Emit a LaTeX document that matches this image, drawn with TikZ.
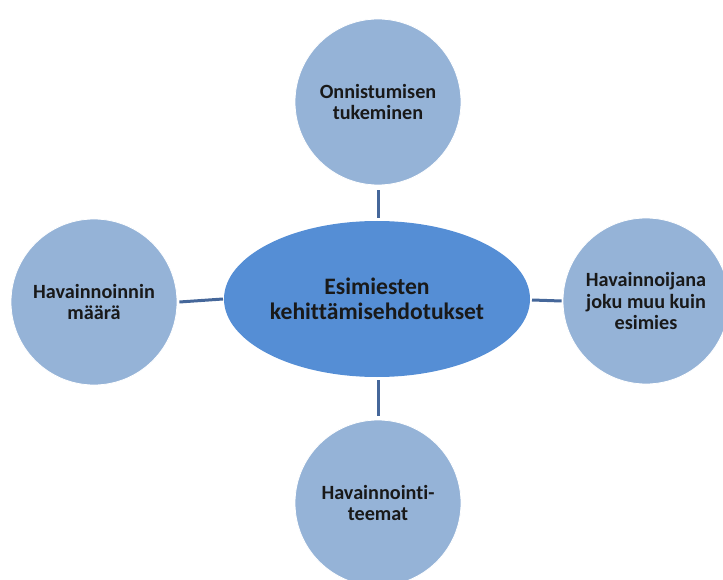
\documentclass[tikz,border=0pt]{standalone}
\usepackage{fontspec}
\setmainfont[Ligatures=NoCommon]{Carlito}
\usetikzlibrary{shapes.geometric}
\definecolor{circfill}{HTML}{95B3D7}
\definecolor{ellfill}{HTML}{558ED5}
\definecolor{linkcol}{HTML}{45679A}
\begin{document}
\begin{tikzpicture}[x=1pt,y=-1pt,
  satellite/.style={circle,fill=circfill,draw=white,line width=0.8pt,minimum size=166pt,inner sep=0pt,
    align=center,font=\bfseries\fontsize{20.2}{21.5}\selectfont,text=black!90},
  hub/.style={ellipse,fill=ellfill,draw=none,minimum width=306pt,minimum height=156pt,inner sep=0pt,
    align=center,font=\bfseries\fontsize{23.6}{25.5}\selectfont,text=black!90},
  link/.style={draw=linkcol,line width=3pt}]
\clip (0,0) rectangle (723,580);
\useasboundingbox (0,0) rectangle (723,580);
\node[hub] (c) at (377,299) {Esimiesten\\kehittämisehdotukset};
\node[satellite] (t) at (378,102) {Onnistumisen\\tukeminen};
\node[satellite] (l) at (94,302) {Havainnoinnin\\määrä};
\node[satellite] (r) at (646,301) {Havainnoijana\\joku muu kuin\\esimies};
\node[satellite] (b) at (378,503) {Havainnointi-\\teemat};
\coordinate (tc) at (378,218);
\coordinate (lc) at (223,299);
\coordinate (rc) at (532,300);
\coordinate (bc) at (378,380);
\draw[link] ([yshift=-5pt]t.south) -- (tc);
\draw[link] ([xshift=2pt]l.east) -- (lc);
\draw[link] (rc) -- ([xshift=-1pt]r.west);
\draw[link] (bc) -- ([yshift=4pt]b.north);
\end{tikzpicture}
\end{document}
